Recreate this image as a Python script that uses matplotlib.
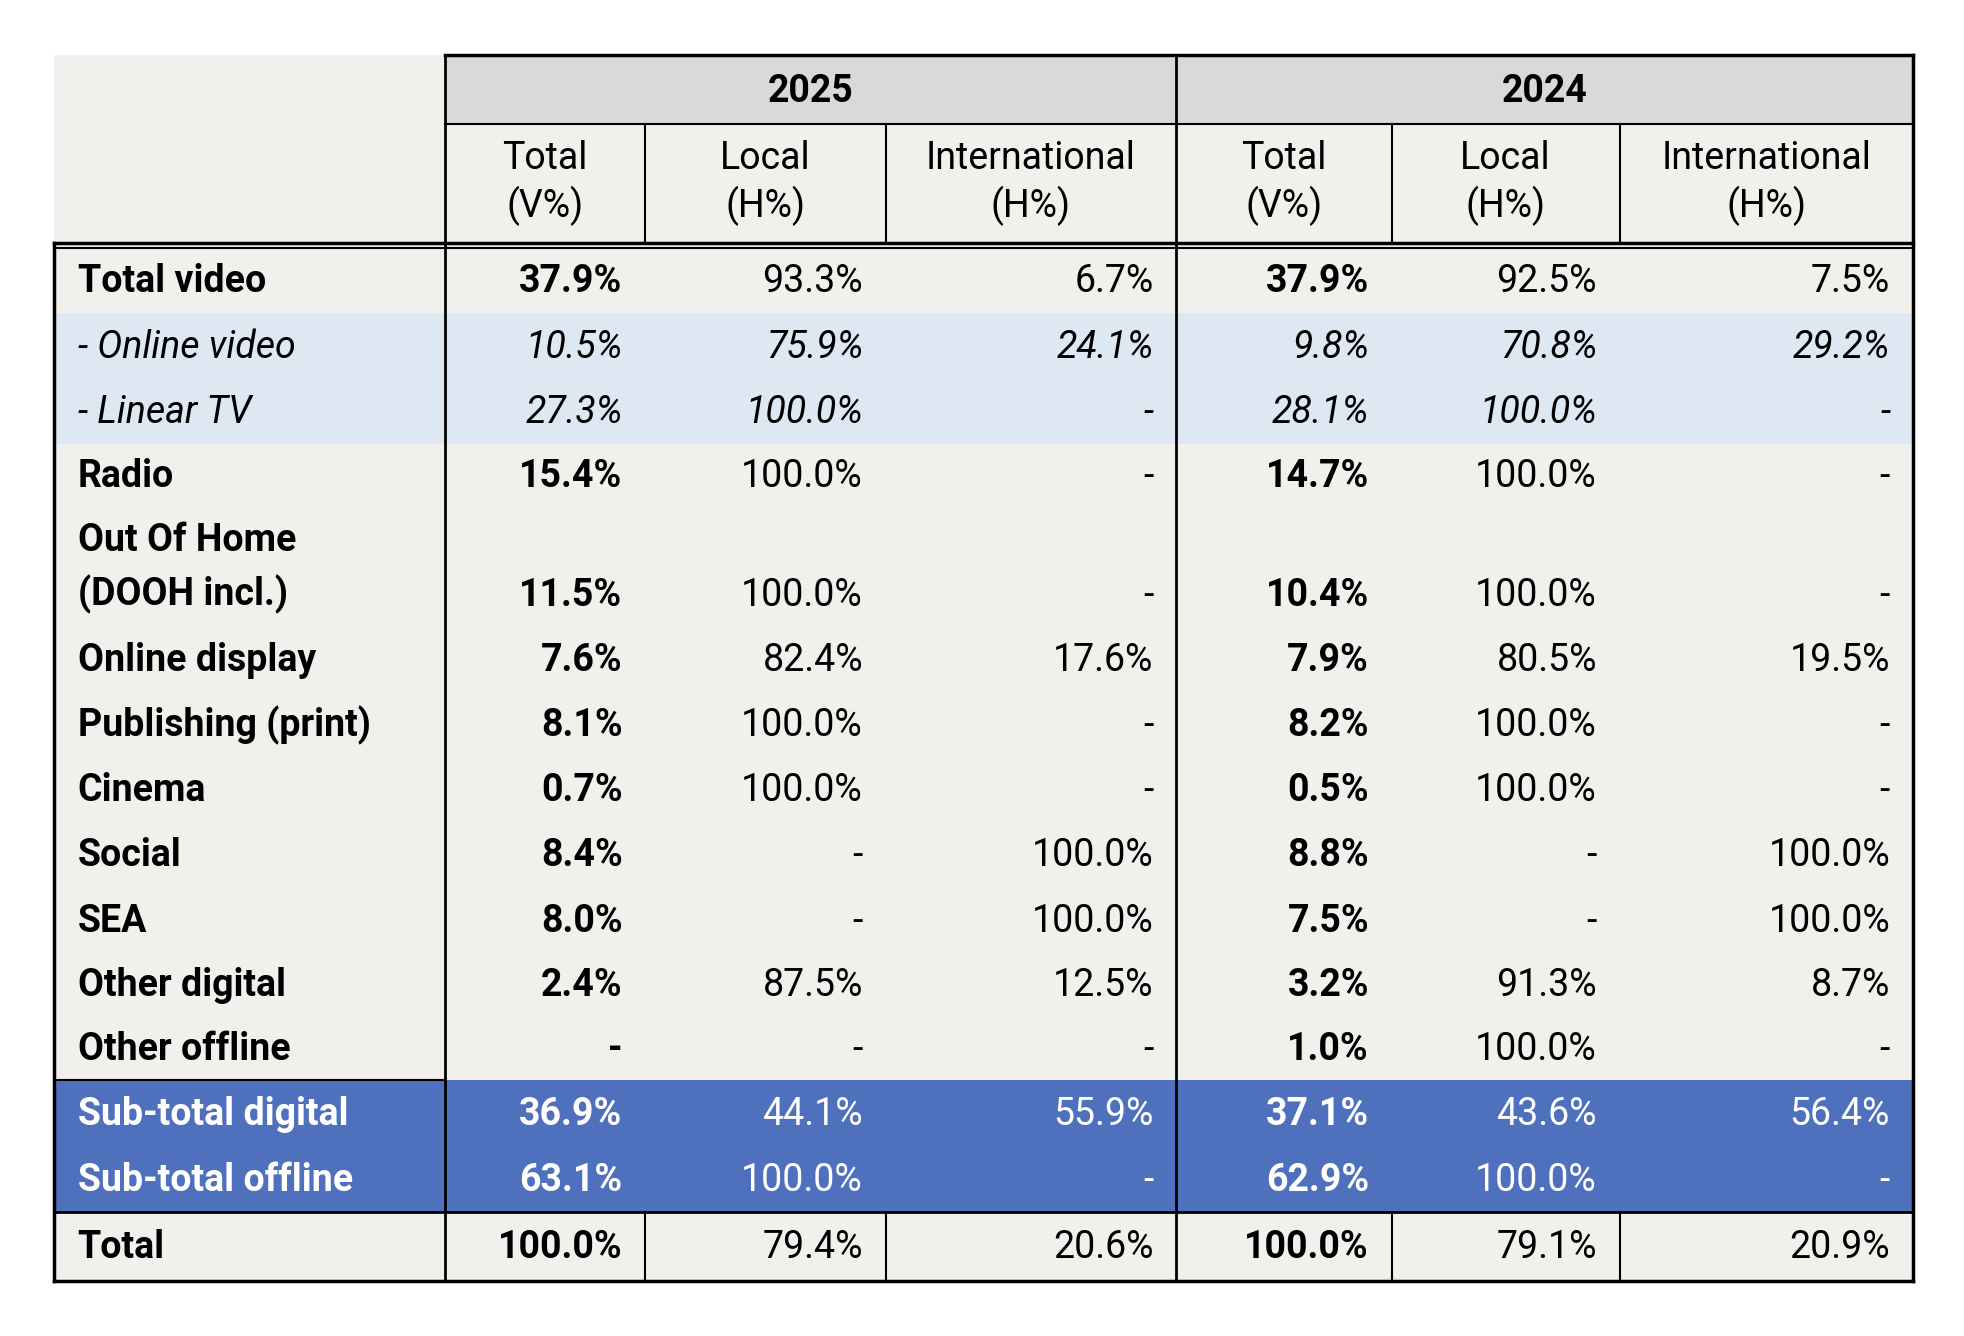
import matplotlib
matplotlib.use("Agg")
import matplotlib.pyplot as plt
from matplotlib.patches import Rectangle

years = ["2025", "2024"]
sub_headers = ["Total\n(V%)", "Local\n(H%)", "International\n(H%)"]
row_labels = ["Total video", "- Online video", "- Linear TV", "Radio", "Out Of Home\n(DOOH incl.)",
              "Online display", "Publishing (print)", "Cinema", "Social", "SEA", "Other digital",
              "Other offline", "Sub-total digital", "Sub-total offline", "Total"]
vals_2025 = [["37.9%", "93.3%", "6.7%"], ["10.5%", "75.9%", "24.1%"], ["27.3%", "100.0%", "-"],
             ["15.4%", "100.0%", "-"], ["11.5%", "100.0%", "-"], ["7.6%", "82.4%", "17.6%"],
             ["8.1%", "100.0%", "-"], ["0.7%", "100.0%", "-"], ["8.4%", "-", "100.0%"],
             ["8.0%", "-", "100.0%"], ["2.4%", "87.5%", "12.5%"], ["-", "-", "-"],
             ["36.9%", "44.1%", "55.9%"], ["63.1%", "100.0%", "-"], ["100.0%", "79.4%", "20.6%"]]
vals_2024 = [["37.9%", "92.5%", "7.5%"], ["9.8%", "70.8%", "29.2%"], ["28.1%", "100.0%", "-"],
             ["14.7%", "100.0%", "-"], ["10.4%", "100.0%", "-"], ["7.9%", "80.5%", "19.5%"],
             ["8.2%", "100.0%", "-"], ["0.5%", "100.0%", "-"], ["8.8%", "-", "100.0%"],
             ["7.5%", "-", "100.0%"], ["3.2%", "91.3%", "8.7%"], ["1.0%", "100.0%", "-"],
             ["37.1%", "43.6%", "56.4%"], ["62.9%", "100.0%", "-"], ["100.0%", "79.1%", "20.9%"]]

W, H = 1568, 1066
fig = plt.figure(figsize=(19.64, 13.36), dpi=100)
ax = fig.add_axes([0, 0, 1, 1])
ax.set_xlim(0, W); ax.set_ylim(H, 0); ax.axis("off")
plt.rcParams['font.family'] = ['Roboto', 'DejaVu Sans']

xs = [43, 355, 515, 707, 939, 1111, 1293, 1527]
ys = [198, 250, 302, 354, 405, 500, 552, 604, 656, 708, 760, 811, 862, 915, 967, 1022]
bg = "#f1f0ed"; hdr = "#d9d9d9"; lblue = "#dde8f3"; blue = "#4f71bd"
fs = 27

ax.add_patch(Rectangle((43, 44), 1527 - 43, 1022 - 44, color=bg, lw=0))
ax.add_patch(Rectangle((355, 44), 1527 - 355, 55, color=hdr, lw=0))
for i in (1, 2):
    ax.add_patch(Rectangle((43, ys[i]), 1527 - 43, ys[i + 1] - ys[i], color=lblue, lw=0))
ax.add_patch(Rectangle((43, ys[12]), 1527 - 43, ys[14] - ys[12], color=blue, lw=0))

def line(x0, y0, x1, y1, lw=2):
    ax.plot([x0, x1], [y0, y1], color="black", lw=lw, solid_capstyle="projecting")

for k, y in enumerate(years):
    xa, xb = (355, 939) if k == 0 else (939, 1527)
    ax.text((xa + xb) / 2, 73, y, ha="center", va="center", fontsize=fs, fontweight="bold")
    for j, s in enumerate(sub_headers):
        c0, c1 = xs[1 + 3 * k + j], xs[2 + 3 * k + j]
        ax.text((c0 + c1) / 2, 146, s, ha="center", va="center", fontsize=fs, linespacing=1.3)

for i, lab in enumerate(row_labels):
    y0, y1 = ys[i], ys[i + 1]
    ym = (y0 + y1) / 2 + 1
    ital = i in (1, 2)
    col = "white" if i in (12, 13) else "black"
    ax.text(62, ym, lab, ha="left", va="center", fontsize=fs, color=col,
            fontweight="normal" if ital else "bold", fontstyle="italic" if ital else "normal",
            linespacing=1.5)
    vy = y1 - 25 if i == 4 else ym
    for k, vals in enumerate((vals_2025, vals_2024)):
        for j, v in enumerate(vals[i]):
            c1 = xs[2 + 3 * k + j]
            bold = (j == 0 and not ital)
            ax.text(c1 - 18, vy, v, ha="right", va="center", fontsize=fs, color=col,
                    fontweight="bold" if bold else "normal",
                    fontstyle="italic" if ital else "normal")

line(355, 44, 1527, 44, 2.5)
line(355, 99, 1527, 99, 1.5)
line(43, 194, 1527, 194, 2.5)
line(43, 198, 1527, 198, 1.5)
line(43, 194, 43, 1022, 2.5)
line(1527, 44, 1527, 1022, 2.5)
line(43, 1022, 1527, 1022, 2.5)
line(43, 967, 1527, 967, 2)
line(43, 862, 355, 862, 1.5)
for x in (355, 939):
    line(x, 44, x, 1022, 2)
for x in (515, 707, 1111, 1293):
    line(x, 99, x, 194, 1.5)
    line(x, 967, x, 1022, 1.5)

fig.savefig("out.png", dpi=100)
